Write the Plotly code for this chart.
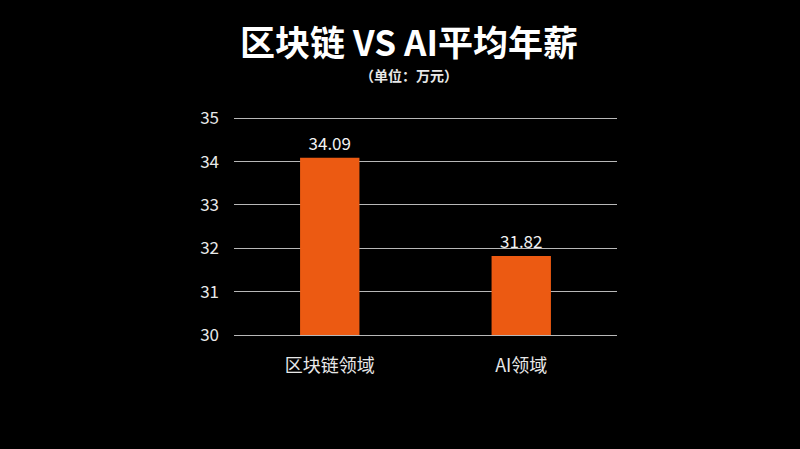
import plotly.graph_objects as go

categories = ["区块链领域", "AI领域"]
salaries = [34.09, 31.82]
value_labels = ["34.09", "31.82"]
tick_vals = [30, 31, 32, 33, 34, 35]

FONT = "Noto Sans CJK SC"
L, R, T, B = 234, 183, 117, 114
W, H = 800, 449
Y_MIN, Y_MAX = 30, 35.03

fig = go.Figure(
    go.Bar(
        x=categories,
        y=salaries,
        text=value_labels,
        textposition="outside",
        textfont=dict(color="#f2f2f2", size=17, family=FONT),
        marker=dict(color="#ec5a12", line=dict(width=0)),
        cliponaxis=False,
    )
)

plot_w = W - L - R
plot_h = H - T - B


def px_to_paper(xp, yp):
    return (xp - L) / plot_w, 1 + (T - yp) / plot_h


tx, ty = px_to_paper(409, 40)
sx, sy = px_to_paper(409, 75)

fig.update_layout(
    width=W,
    height=H,
    paper_bgcolor="#000000",
    plot_bgcolor="#000000",
    margin=dict(l=L, r=R, t=T, b=B),
    bargap=0.69,
    showlegend=False,
    font=dict(family=FONT, color="#f0f0f0"),
    annotations=[
        dict(
            text="<b>区块链 VS AI平均年薪</b>",
            x=tx, y=ty, xref="paper", yref="paper", yanchor="middle",
            showarrow=False, font=dict(size=35, color="#ffffff", family=FONT),
        ),
        dict(
            text="<b>（单位：万元）</b>",
            x=sx, y=sy, xref="paper", yref="paper", yanchor="middle",
            showarrow=False, font=dict(size=14, color="#e8e8e8", family=FONT),
        ),
    ],
)

fig.update_yaxes(
    range=[Y_MIN, Y_MAX],
    tickvals=tick_vals,
    showgrid=True,
    gridcolor="#b8b8b8",
    gridwidth=1,
    zeroline=False,
    showline=False,
    ticks="",
    ticklabelstandoff=14,
    tickfont=dict(size=17, color="#e8e8e8", family=FONT),
)
fig.update_xaxes(
    showgrid=False,
    showline=True,
    linecolor="#b8b8b8",
    linewidth=1,
    ticks="",
    ticklabelstandoff=14,
    tickfont=dict(size=18, color="#e8e8e8", family=FONT),
)

fig.write_html(
    "out.html",
    config={"displayModeBar": False},
    post_script="document.body.style.margin='0';document.body.style.background='#000';",
)
